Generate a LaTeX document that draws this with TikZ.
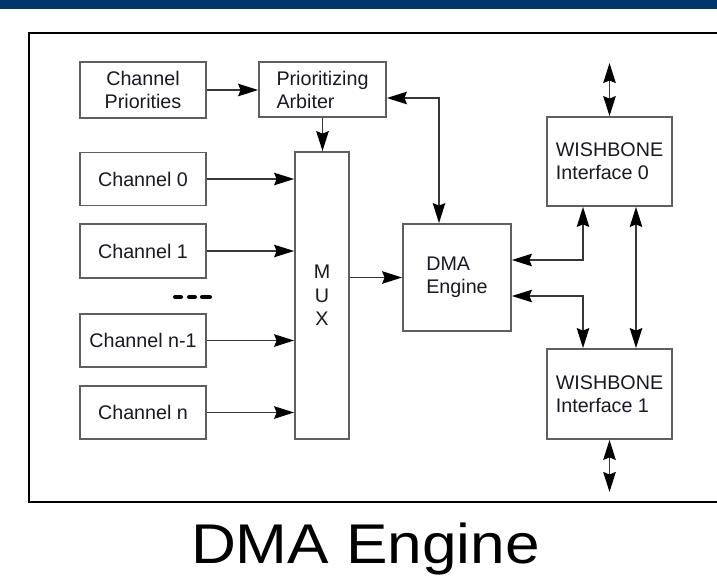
\documentclass[tikz,border=0pt]{standalone}
\usepackage{fontspec}
\setmainfont{Liberation Sans}
\usetikzlibrary{arrows.meta,calc}
\definecolor{barblue}{RGB}{0,54,107}
\definecolor{boxgray}{RGB}{95,95,95}
\definecolor{wiregray}{RGB}{55,55,55}
\definecolor{inktext}{RGB}{25,25,35}

\begin{document}
\begin{tikzpicture}[x=1pt,y=-1pt,
  >={Stealth[length=20pt,width=12.5pt,inset=2.5pt,color=black]},
  blk/.style={draw=boxgray, line width=1.8pt, fill=white, inner sep=0pt,
    text=inktext, font=\fontsize{19.7}{23}\selectfont},
  chan/.style={blk, minimum width=126pt, minimum height=53pt, align=center},
  wbox/.style={blk, minimum width=125pt, minimum height=89pt, align=left},
  wire/.style={draw=wiregray, line width=1.5pt},
  frameline/.style={draw=black, line width=1.3pt}]

\useasboundingbox (0,0) rectangle (717,581);

% title strip and frame
\fill[barblue] (0,0) rectangle (717,9);
\draw[frameline] (717,33) -- (29,33) -- (29,502) -- (717,502);

% blocks
\node[chan, minimum height=56pt] (cp) at (143,90) {Channel\\Priorities};
\node[blk, minimum width=127pt, minimum height=55pt, align=left] (arb) at (322.5,89.5) {Prioritizing\\Arbiter};
\node[blk, minimum width=54pt, minimum height=287pt, align=center,
  font=\fontsize{19.7}{23.5}\selectfont] (mux) at (322,295.5) {M\\U\\X};
\node[chan] (ch0) at (143,179) {Channel 0};
\node[chan, minimum height=54pt] (ch1) at (143,251) {Channel 1};
\node[chan] (chm) at (143,340.5) {Channel n-1};
\node[chan] (chn) at (143,412.5) {Channel n};
\node[blk, minimum width=108pt, minimum height=107pt, align=left] (dma) at (457,277.5) {DMA\\Engine};
\node[wbox] (wb0) at (609.5,161.5) {WISHBONE\\Interface 0};
\node[wbox, minimum height=90pt] (wb1) at (609.5,394) {WISHBONE\\Interface 1};

% ellipsis between channel 1 and channel n-1
\foreach \xa/\xb in {175/181, 189/195, 202/210}
  \draw[black, line width=4pt, line cap=round] (\xa,297) -- (\xb,297);

% free ends of the bus connections
\coordinate (bus0) at (609.5,63);
\coordinate (bus1) at (609.5,492);

% connectors
\draw[wire,->] (cp.east) -- (cp.east -| arb.west);
\draw[wire,->] (arb.south) -- (arb.south |- mux.north);
\foreach \c in {ch0,ch1,chm,chn}
  \draw[wire,->] (\c.east) -- (\c.east -| mux.west);
\draw[wire,->] (dma.west -| mux.east) -- (dma.west);
\draw[wire,<->] ($(arb.east)+(0,8.5)$) -| ($(dma.north)+(-18,0)$);
\draw[wire,<->] ($(dma.east)+(0,-17.5)$) -| ($(wb0.south)+(-26.5,0)$);
\draw[wire,<->] ($(dma.east)+(0,18.5)$) -| ($(wb1.north)+(-26.5,0)$);
\draw[wire,<->] ($(wb0.south)+(26.5,0)$) -- ($(wb1.north)+(26.5,0)$);
\draw[wire,<->] (bus0) -- (wb0.north);
\draw[wire,<->] (wb1.south) -- (bus1);

% caption
\node[font=\fontsize{56}{60}\selectfont, anchor=base, inner sep=0pt, text=black] (title)
  at (365.5,563) {\scalebox{1.11}[1]{DMA Engine}};
\end{tikzpicture}
\end{document}
